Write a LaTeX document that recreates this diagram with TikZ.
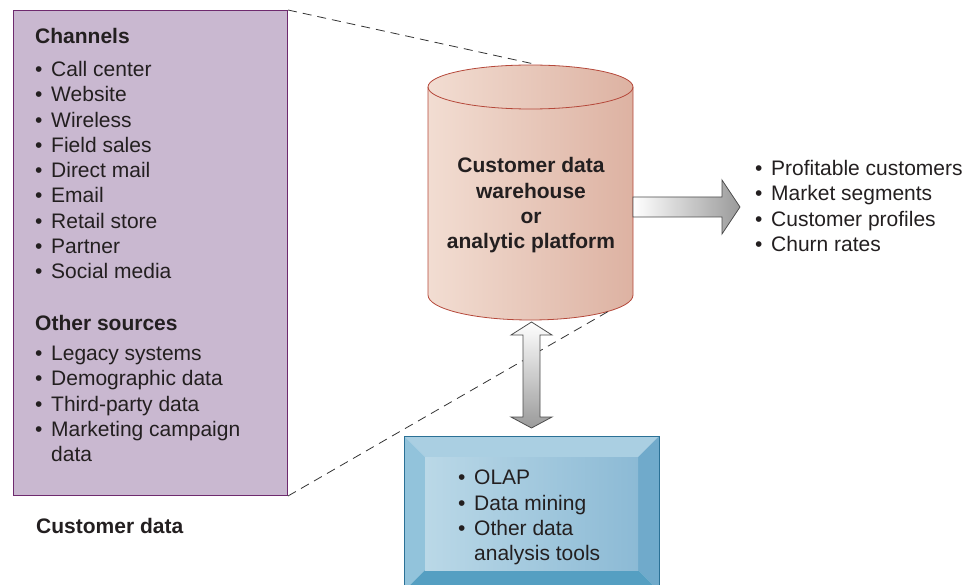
\documentclass[tikz,border=0pt]{standalone}
\usepackage{fontspec}
\setmainfont{Liberation Sans}
\usetikzlibrary{positioning}
\definecolor{DarkText}{HTML}{231F20}
\definecolor{SrcFill}{HTML}{C9B8D0}
\definecolor{SrcLine}{HTML}{6E2A6E}
\definecolor{CylLeft}{HTML}{F2DDD2}
\definecolor{CylRight}{HTML}{DDB2A2}
\definecolor{CylLine}{HTML}{B5483A}
\definecolor{ArrowDark}{HTML}{9A9A9A}
\definecolor{ArrowLine}{HTML}{4D4D4D}
\definecolor{DashLine}{HTML}{333333}
\definecolor{BevelTop}{HTML}{AACFE2}
\definecolor{BevelLeft}{HTML}{92C3DB}
\definecolor{BevelRight}{HTML}{70AACB}
\definecolor{BevelBottom}{HTML}{559FC2}
\definecolor{InnerLeft}{HTML}{BAD8E7}
\definecolor{InnerRight}{HTML}{8CBAD5}
\definecolor{BlueLine}{HTML}{2B7196}
\newcommand{\itm}{\makebox[16pt][l]{\textbullet}}
\tikzset{
  listtext/.style={
    anchor=north west,
    inner sep=0pt,
    align=left,
    font=\fontsize{21}{25.3}\selectfont,
    text=DarkText,
  },
  headtext/.style={
    listtext,
    font=\fontsize{21}{25.3}\selectfont\bfseries,
  },
  blockarrow/.style={
    draw=ArrowLine,
    line width=0.8pt,
  },
  zoomline/.style={
    draw=DashLine,
    line width=0.8pt,
    dash pattern=on 9pt off 6pt,
  }
}

\begin{document}
\begin{tikzpicture}[x=1pt,y=-1pt]
  \useasboundingbox (0,0) rectangle (973,585);

  % customer data sources
  \node[
    draw=SrcLine,
    fill=SrcFill,
    line width=1pt,
    anchor=north west,
    minimum width=274pt,
    minimum height=485pt
  ] (srcbox) at (13,10) {};

  \node[headtext] (chanhead) at (35,28) {Channels};
  \node[listtext] (chanlist) at (35,61) {
    \itm Call center\\
    \itm Website\\
    \itm Wireless\\
    \itm Field sales\\
    \itm Direct mail\\
    \itm Email\\
    \itm Retail store\\
    \itm Partner\\
    \itm Social media
  };
  \node[headtext] (otherhead) at (35,315) {Other sources};
  \node[listtext] (otherlist) at (35,346) {
    \itm Legacy systems\\
    \itm Demographic data\\
    \itm Third-party data\\
    \itm Marketing campaign\\
    \hspace{16pt}data
  };
  \node[headtext, below right=22pt and 23pt of srcbox.south west] (srccap) {Customer data};

  % warehouse cylinder
  \shade[left color=CylLeft, right color=CylRight]
    (428,87) -- (428,295)
    arc[start angle=180, end angle=360, x radius=102.5pt, y radius=25pt]
    -- (633,87)
    arc[start angle=0, end angle=180, x radius=102.5pt, y radius=22pt]
    -- cycle;
  \draw[CylLine, line width=0.8pt]
    (428,87) -- (428,295)
    arc[start angle=180, end angle=360, x radius=102.5pt, y radius=25pt]
    -- (633,87);
  \draw[CylLine, line width=0.8pt] (530.5,87) ellipse[x radius=102.5pt, y radius=22pt];
  \node[
    align=center,
    inner sep=0pt,
    font=\fontsize{21}{25.3}\selectfont\bfseries,
    text=DarkText
  ] (dw) at (531,205.5) {
    Customer data\\
    warehouse\\
    or\\
    analytic platform
  };
  \coordinate (cyltop) at (534,64);
  \coordinate (cylbot) at (609,311);

  % zoom lines
  \draw[zoomline] (srcbox.north east) -- (cyltop);
  \draw[zoomline] (srcbox.south east) -- (cylbot);

  % outputs
  \shade[blockarrow, left color=white, right color=ArrowDark]
    (633,197) -- (722,197) -- (722,180) -- (740,207)
    -- (722,234) -- (722,217) -- (633,217) -- cycle;
  \node[listtext] (outlist) at (755,160) {
    \itm Profitable customers\\
    \itm Market segments\\
    \itm Customer profiles\\
    \itm Churn rates
  };

  % analysis tools
  \shade[blockarrow, top color=white, bottom color=ArrowDark]
    (531.5,322) -- (552,335) -- (540,335) -- (540,417) -- (552,417)
    -- (531.5,428) -- (511,417) -- (523,417) -- (523,335) -- (511,335) -- cycle;

  \fill[BevelTop] (404,436) -- (659,436) -- (638,457) -- (425,457) -- cycle;
  \fill[BevelLeft] (404,436) -- (425,457) -- (425,570) -- (404,591) -- cycle;
  \fill[BevelRight] (659,436) -- (638,457) -- (638,570) -- (659,591) -- cycle;
  \fill[BevelBottom] (404,591) -- (425,570) -- (638,570) -- (659,591) -- cycle;
  \shade[left color=InnerLeft, right color=InnerRight] (425,457) rectangle (638,570);
  \node[
    draw=BlueLine,
    line width=1pt,
    anchor=north west,
    minimum width=255pt,
    minimum height=160pt
  ] (toolbox) at (404,436) {};
  \node[listtext] (toollist) at (458,470) {
    \itm OLAP\\
    \itm Data mining\\
    \itm Other data\\
    \hspace{16pt}analysis tools
  };
\end{tikzpicture}
\end{document}
